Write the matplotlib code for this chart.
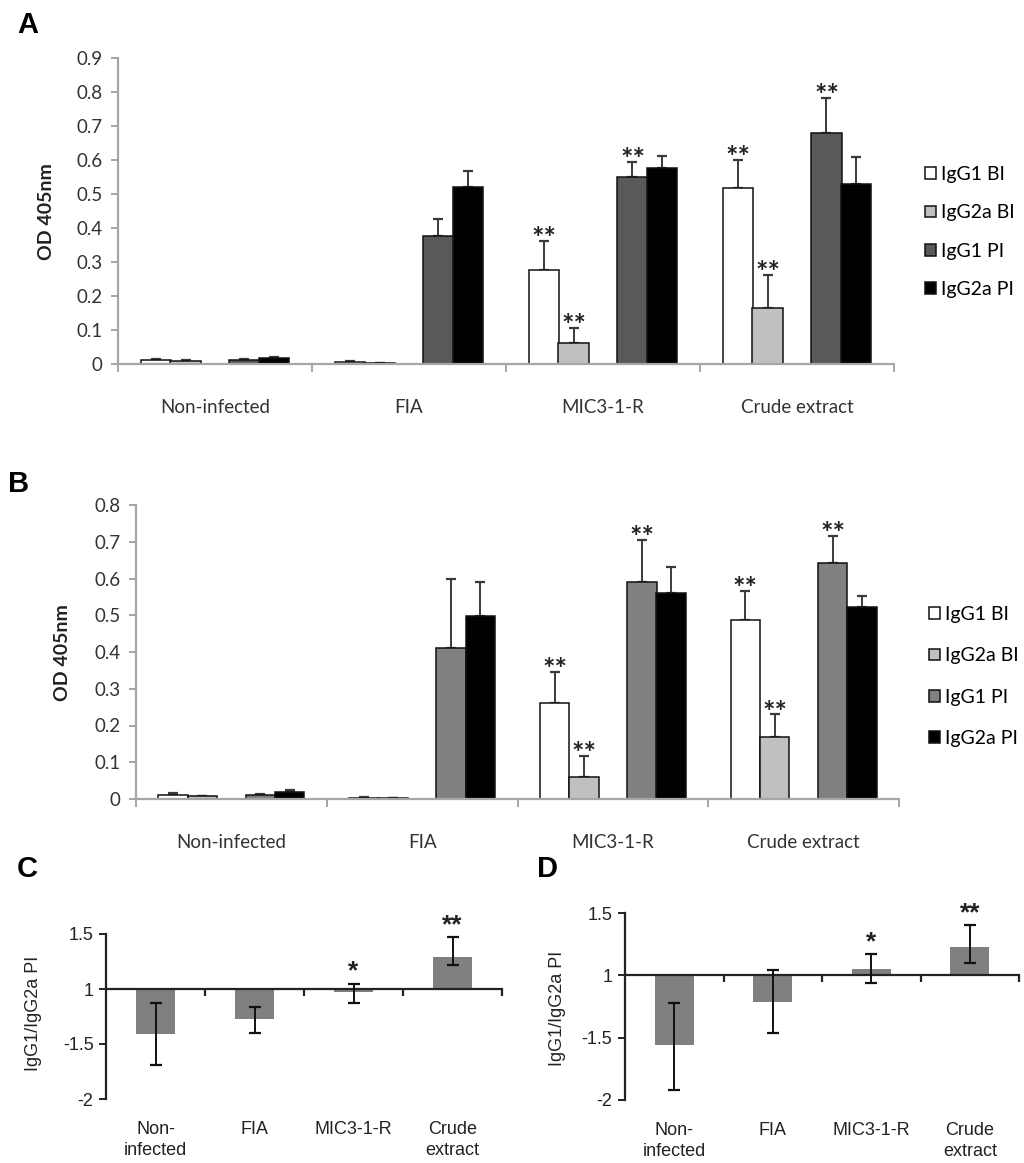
import numpy as np
import matplotlib
matplotlib.use('Agg')
import matplotlib.pyplot as plt

W, H, DPI = 1024, 1163, 100

# ---------------- data ----------------
groups = ['Non-infected', 'FIA', 'MIC3-1-R', 'Crude extract']
groups_cd = ['Non-\ninfected', 'FIA', 'MIC3-1-R', 'Crude\nextract']
series = ['IgG1 BI', 'IgG2a BI', 'IgG1 PI', 'IgG2a PI']

# Panel A (OD 405nm)
A_igg1_bi = [0.012, 0.005, 0.276, 0.518]
A_igg1_bi_err = [0.004, 0.003, 0.086, 0.082]
A_igg2a_bi = [0.008, 0.003, 0.062, 0.165]
A_igg2a_bi_err = [0.003, 0.001, 0.044, 0.097]
A_igg1_pi = [0.012, 0.376, 0.550, 0.679]
A_igg1_pi_err = [0.004, 0.050, 0.044, 0.103]
A_igg2a_pi = [0.018, 0.520, 0.576, 0.529]
A_igg2a_pi_err = [0.004, 0.047, 0.036, 0.079]

# Panel B (OD 405nm)
B_igg1_bi = [0.012, 0.004, 0.260, 0.487]
B_igg1_bi_err = [0.003, 0.002, 0.086, 0.080]
B_igg2a_bi = [0.007, 0.003, 0.060, 0.170]
B_igg2a_bi_err = [0.002, 0.001, 0.057, 0.060]
B_igg1_pi = [0.010, 0.410, 0.590, 0.643]
B_igg1_pi_err = [0.004, 0.190, 0.115, 0.074]
B_igg2a_pi = [0.020, 0.498, 0.560, 0.523]
B_igg2a_pi_err = [0.004, 0.092, 0.070, 0.030]

# significance marks per series (IgG1 BI, IgG2a BI, IgG1 PI, IgG2a PI)
sig_ab = [['', '', '**', '**'],
          ['', '', '**', '**'],
          ['', '', '**', '**'],
          ['', '', '', '']]

A_ticks = [0, 0.1, 0.2, 0.3, 0.4, 0.5, 0.6, 0.7, 0.8, 0.9]
B_ticks = [0, 0.1, 0.2, 0.3, 0.4, 0.5, 0.6, 0.7, 0.8]

# Panels C and D: IgG1/IgG2a PI ratio (values < 1 shown as negative reciprocal)
C_ratio = [-1.41, -1.27, -1.03, 1.29]
C_err_lo = [0.28, 0.13, 0.10, 0.07]
C_err_hi = [0.28, 0.11, 0.08, 0.18]
C_sig = ['', '', '*', '**']

D_ratio = [-1.56, -1.21, 1.05, 1.23]
D_err_lo = [0.36, 0.25, 0.11, 0.13]
D_err_hi = [0.34, 0.25, 0.12, 0.17]
D_sig = ['', '', '*', '**']

ratio_ticks = [1.5, 1, -1.5, -2]
ratio_tick_labels = ['1.5', '1', '-1.5', '-2']

# ---------------- helpers ----------------
def rect(l, t, r, b):
    return [l / W, 1 - b / H, (r - l) / W, (b - t) / H]

def to_pos(r):
    return r - 1 if r > 0 else r + 1

fig = plt.figure(figsize=(W / DPI, H / DPI), dpi=DPI)

AXGREY = '#a6a6a6'
TXT = '#333333'
CAL = ['Lato', 'DejaVu Sans']
ARI = ['Liberation Sans', 'DejaVu Sans']

def draw_od(r, vals, errs, colors, ticks, leg_xy, leg_space):
    ax = fig.add_axes(rect(*r))
    x = np.arange(len(groups))
    offsets = [-0.305, -0.152, 0.152, 0.305]
    w = 0.155
    for k in range(4):
        xs = x + offsets[k]
        ax.bar(xs, vals[k], w, color=colors[k], edgecolor='#111111',
               linewidth=1.1, zorder=2, label=series[k])
        ax.errorbar(xs, vals[k], yerr=[np.zeros(len(x)), errs[k]], fmt='none',
                    ecolor='#3a3a3a', elinewidth=1.4, capsize=3.5, capthick=1.6,
                    zorder=1)
        for i in range(len(x)):
            s = sig_ab[k][i]
            if s:
                ax.annotate(s, (xs[i], vals[k][i] + errs[k][i]), xytext=(0, -8),
                            textcoords='offset points', ha='center', va='bottom',
                            fontsize=21, fontweight='bold', family=CAL,
                            color='#222222', zorder=4)
    ax.set_xlim(-0.5, len(groups) - 0.5)
    ax.set_ylim(0, ticks[-1])
    ax.set_yticks(ticks)
    ax.set_yticklabels([f'{t:g}' for t in ticks], family=CAL, fontsize=13.5, color=TXT)
    ax.set_xticks(x)
    ax.set_xticklabels(groups, family=CAL, fontsize=13.5, color=TXT)
    ax.set_xticks(np.arange(-0.5, len(groups)), minor=True)
    ax.tick_params(axis='x', which='major', length=0, pad=25)
    ax.tick_params(axis='x', which='minor', length=6, width=1.4, color=AXGREY, direction='out')
    ax.tick_params(axis='y', length=5, width=1.4, color=AXGREY, direction='out', pad=6)
    for sp in ['top', 'right']:
        ax.spines[sp].set_visible(False)
    for sp in ['left', 'bottom']:
        ax.spines[sp].set_color(AXGREY)
        ax.spines[sp].set_linewidth(1.6)
    ax.legend(loc='upper left', bbox_to_anchor=(leg_xy[0] / W, 1 - leg_xy[1] / H),
              bbox_transform=fig.transFigure, frameon=False, borderpad=0,
              borderaxespad=0,
              handlelength=0.55, handleheight=0.55, handletextpad=0.25,
              labelspacing=leg_space, prop={'family': CAL, 'size': 14})
    return ax

draw_od((118, 58, 894, 364),
        [A_igg1_bi, A_igg2a_bi, A_igg1_pi, A_igg2a_pi],
        [A_igg1_bi_err, A_igg2a_bi_err, A_igg1_pi_err, A_igg2a_pi_err],
        ['white', '#c0c0c0', '#595959', 'black'], A_ticks, (925, 166), 1.1)

draw_od((136, 505, 899, 799),
        [B_igg1_bi, B_igg2a_bi, B_igg1_pi, B_igg2a_pi],
        [B_igg1_bi_err, B_igg2a_bi_err, B_igg1_pi_err, B_igg2a_pi_err],
        ['white', '#c0c0c0', '#808080', 'black'], B_ticks, (929, 606), 1.25)

fig.text(47 / W, 1 - 212 / H, 'OD 405nm', rotation=90, ha='center', va='center',
         family=CAL, fontsize=14, fontweight='bold', color='#222222')
fig.text(63 / W, 1 - 653 / H, 'OD 405nm', rotation=90, ha='center', va='center',
         family=CAL, fontsize=14, fontweight='bold', color='#222222')

def draw_ratio(r, ratios, elo, ehi, sigs, ylab_xy):
    ax = fig.add_axes(rect(*r))
    x = np.arange(len(groups_cd))
    pos = np.array([to_pos(v) for v in ratios])
    ax.bar(x, pos, 0.4, color='#808080', zorder=2)
    ax.errorbar(x, pos, yerr=[elo, ehi], fmt='none', ecolor='#111111',
                elinewidth=1.4, capsize=4, capthick=1.6, zorder=3)
    tops = pos + np.array(ehi)
    for i in range(len(x)):
        if sigs[i]:
            ax.annotate(sigs[i], (x[i], tops[i]), xytext=(0, 0),
                        textcoords='offset points', ha='center', va='bottom',
                        fontsize=19, fontweight='bold', family=ARI, color='#222222')
    ax.set_xlim(-0.5, len(x) - 0.5)
    ax.set_ylim(to_pos(ratio_ticks[-1]), to_pos(ratio_ticks[0]))
    ax.set_yticks([to_pos(t) for t in ratio_ticks])
    ax.set_yticklabels(ratio_tick_labels, family=ARI, fontsize=13, color='#222222')
    ax.tick_params(axis='y', length=5, width=1.4, color='#222222', direction='out', pad=4)
    for sp in ['top', 'right']:
        ax.spines[sp].set_visible(False)
    ax.spines['left'].set_linewidth(1.6)
    ax.spines['left'].set_color('#222222')
    ax.spines['bottom'].set_position(('data', 0))
    ax.spines['bottom'].set_linewidth(1.6)
    ax.spines['bottom'].set_color('#222222')
    ax.set_xticks(np.arange(0.5, len(x)))
    ax.set_xticklabels([])
    ax.tick_params(axis='x', length=5, width=1.6, color='#222222', direction='out')
    sec = ax.secondary_xaxis(0)
    sec.set_xticks(x)
    sec.set_xticklabels(groups_cd, family=ARI, fontsize=13, color='#222222', linespacing=1.3)
    sec.tick_params(length=0, pad=16)
    sec.spines['bottom'].set_visible(False)
    fig.text(ylab_xy[0] / W, 1 - ylab_xy[1] / H, 'IgG1/IgG2a PI', rotation=90,
             ha='center', va='center', family=ARI, fontsize=13, color='#222222')
    return ax

draw_ratio((106, 934, 502, 1099), C_ratio, C_err_lo, C_err_hi, C_sig, (33, 1013))
draw_ratio((625, 913, 1019, 1100), D_ratio, D_err_lo, D_err_hi, D_sig, (557, 1008))

for lab, lx, by in [('A', 17, 33), ('B', 8, 492), ('C', 17, 877), ('D', 537, 877)]:
    fig.text(lx / W, 1 - by / H, lab, ha='left', va='baseline', family=ARI,
             fontsize=21, fontweight='bold', color='black')

fig.savefig('out.png', dpi=DPI)
